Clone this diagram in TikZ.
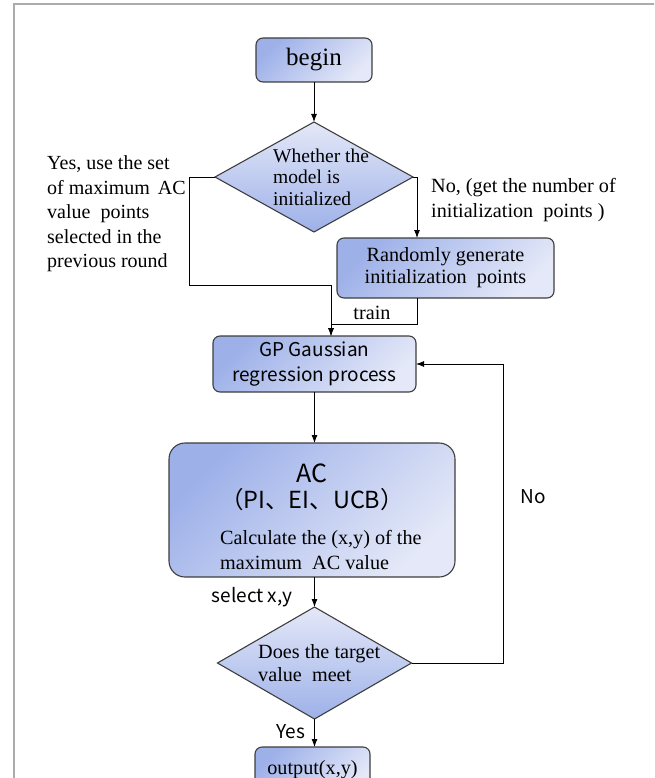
\documentclass[tikz,border=0pt]{standalone}
\usepackage{fontspec}
\setmainfont{Liberation Serif}
\newfontfamily\cjk{Noto Sans CJK SC}
\usetikzlibrary{shapes.geometric,arrows.meta}
\definecolor{boxdark}{RGB}{157,176,232}
\definecolor{boxlight}{RGB}{228,232,248}
\definecolor{edgegray}{RGB}{62,62,62}
\definecolor{framegray}{RGB}{172,172,172}

\begin{document}
\begin{tikzpicture}[x=1pt,y=-1pt,
    block/.style={draw=edgegray,line width=1.1pt,rounded corners=7pt,top color=boxdark,bottom color=boxlight,shading angle=45,align=center,inner sep=0pt,outer sep=0pt},
    decision/.style={diamond,draw=edgegray,line width=1.1pt,top color=boxlight,bottom color=boxdark,inner sep=0pt,outer sep=0pt},
    serif/.style={font=\fontsize{20.2}{22}\selectfont,inner sep=0pt},
    sans/.style={font=\cjk\fontsize{19}{25}\selectfont,inner sep=0pt},
    line/.style={line width=0.9pt,-{Latex[length=8pt,width=6pt]}}]
  \useasboundingbox (0,0) rectangle (654,778);
  \clip (0,0) rectangle (654,778);
  \draw[framegray,line width=1.5pt] (14,800) -- (14,4) -- (700,4);

  \node[block,minimum width=116pt,minimum height=44pt,serif,font=\fontsize{25}{28}\selectfont] (begin) at (314,60) {begin};
  \node[decision,minimum width=198pt,minimum height=110pt] (init) at (314,177) {};
  \node[serif,align=left,anchor=west,font=\fontsize{19.5}{21.5}\selectfont] (initText) at (273,177) {Whether the\\model is\\initialized};
  \node[block,minimum width=217pt,minimum height=60pt,serif] (rand) at (445.5,268) {Randomly generate\\initialization\ \ points};
  \node[block,minimum width=203pt,minimum height=56pt,sans] (gp) at (314.5,364) {GP Gaussian\\regression process};
  \node[block,minimum width=286pt,minimum height=134pt,rounded corners=16pt] (ac) at (312,510) {};
  \node[sans,font=\cjk\fontsize{25}{28}\selectfont] (acName) at (312,473) {AC};
  \node[sans,font=\cjk\fontsize{23.5}{28}\selectfont] (acList) at (312,500) {（PI、EI、UCB）};
  \node[serif,align=left,anchor=west,font=\fontsize{20.2}{25}\selectfont] (acCalc) at (220,549.5) {Calculate the (x,y) of the\\maximum\ \ AC value};
  \node[decision,minimum width=194pt,minimum height=112pt] (target) at (314.5,663) {};
  \node[serif,align=left,anchor=west,font=\fontsize{20.2}{23}\selectfont] (targetText) at (258,663.5) {Does the target\\value\ \ meet};
  \node[block,minimum width=115pt,minimum height=45pt,serif] (out) at (312.5,769.5) {output(x,y)};

  \node[serif,align=left,anchor=west,font=\fontsize{20}{24.5}\selectfont] (yesText) at (47,214) {Yes, use the set\\of maximum\hspace{0.4em}AC\\value\ \ points\\selected in the\\previous round};
  \node[serif,align=left,anchor=west,font=\fontsize{20.2}{25}\selectfont] (noText) at (431,200.5) {No, (get the number of\\initialization\ \ points )};
  \node[serif] (trainText) at (372,313) {train};
  \node[sans] (selText) at (252,597) {select x,y};
  \node[sans] (noLoop) at (533,497) {No};
  \node[sans] (yesLoop) at (291,732) {Yes};

  \coordinate (yesBend) at (189,285);
  \coordinate (merge) at (331,324);
  \coordinate (randIn) at (417,238);
  \coordinate (loopRight) at (503,364);

  \draw[line] (begin) -- (init);
  \draw[line] (init.west) -| (yesBend) -| (merge |- gp.north);
  \draw[line] (init.east) -| (randIn);
  \draw[line] (randIn |- rand.south) |- (merge) -- (merge |- gp.north);
  \draw[line] (gp.south) -- (gp.south |- ac.north);
  \draw[line] (target.north |- ac.south) -- (target.north);
  \draw[line] (target.east) -| (loopRight) -- (gp.east);
  \draw[line] (target.south) -- (target.south |- out.north);
\end{tikzpicture}
\end{document}
